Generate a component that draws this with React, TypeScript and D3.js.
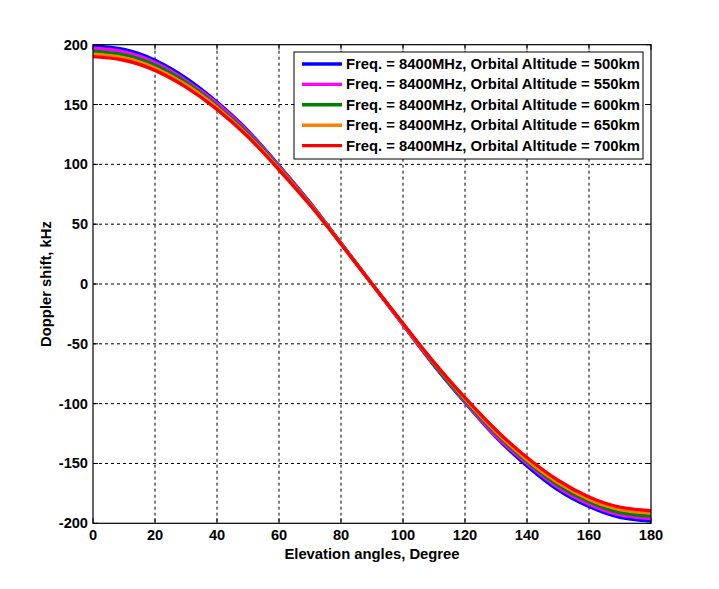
import React from "react";
import * as d3 from "d3";

const angles = [0, 10, 20, 30, 40, 50, 60, 70, 80, 90, 100, 110, 120, 130, 140, 150, 160, 170, 180];
const alt500 = [199, 196, 187, 172, 152, 128, 99, 68, 34, 0, -34, -68, -99, -128, -152, -172, -186, -195, -198];
const alt550 = [197, 194, 185, 170, 151, 127, 98.5, 67.5, 34, 0, -34, -67.5, -98.5, -127, -150, -170, -184, -193, -196];
const alt600 = [194.5, 191.5, 183, 168.5, 149, 125.5, 97.5, 67, 34, 0, -33.5, -67, -97.5, -125, -148.5, -168, -182, -191, -194];
const alt650 = [192, 189, 180.5, 166.5, 147.5, 124, 96.5, 66.5, 33.5, 0, -33.5, -66, -96, -123.5, -147, -166, -180, -188.5, -191.5];
const alt700 = [190, 187, 178.5, 164.5, 146, 123, 95.5, 66, 33.5, 0, -33, -65.5, -95, -122, -145, -164, -178, -186.5, -189.5];

const seriesNames = [
  "Freq. = 8400MHz, Orbital Altitude = 500km",
  "Freq. = 8400MHz, Orbital Altitude = 550km",
  "Freq. = 8400MHz, Orbital Altitude = 600km",
  "Freq. = 8400MHz, Orbital Altitude = 650km",
  "Freq. = 8400MHz, Orbital Altitude = 700km",
];
const seriesValues = [alt500, alt550, alt600, alt650, alt700];
const seriesColors = ["#0000ff", "#ff00ff", "#008000", "#ff8000", "#ff0000"];

const xTicks = [0, 20, 40, 60, 80, 100, 120, 140, 160, 180];
const yTicks = [-200, -150, -100, -50, 0, 50, 100, 150, 200];

const W = 719;
const H = 589;
const L = 93, R = 651, T = 44.7, B = 523.3;
const FONT = "'Liberation Sans', Arial, sans-serif";

export default function App() {
  const x = d3.scaleLinear().domain([0, 180]).range([L, R]);
  const y = d3.scaleLinear().domain([-200, 200]).range([B, T]);
  const line = d3
    .line<[number, number]>()
    .x((d) => x(d[0]))
    .y((d) => y(d[1]))
    .curve(d3.curveNatural);

  const legX = 294, legY = 52, legW = 349, legH = 107;
  const rowY = (i: number) => 64 + i * 20.4;

  return (
    <svg
      width={W}
      height={H}
      style={{ position: "absolute", left: 0, top: 0, background: "#fff" }}
      fontFamily={FONT}
    >
      <rect x={0} y={0} width={W} height={H} fill="#fff" />
      {/* grid */}
      {xTicks.slice(1, -1).map((t) => (
        <line key={"gx" + t} x1={x(t)} x2={x(t)} y1={T} y2={B} stroke="#000" strokeWidth={1} strokeDasharray="3,3" />
      ))}
      {yTicks.slice(1, -1).map((t) => (
        <line key={"gy" + t} x1={L} x2={R} y1={y(t)} y2={y(t)} stroke="#000" strokeWidth={1} strokeDasharray="3,3" />
      ))}
      {/* ticks */}
      {xTicks.map((t) => (
        <g key={"tx" + t}>
          <line x1={x(t)} x2={x(t)} y1={B} y2={B - 5} stroke="#000" />
          <line x1={x(t)} x2={x(t)} y1={T} y2={T + 5} stroke="#000" />
          <text x={x(t)} y={540} textAnchor="middle" fontSize={14.6} fontWeight="bold">{t}</text>
        </g>
      ))}
      {yTicks.map((t) => (
        <g key={"ty" + t}>
          <line x1={L} x2={L + 5} y1={y(t)} y2={y(t)} stroke="#000" />
          <line x1={R} x2={R - 5} y1={y(t)} y2={y(t)} stroke="#000" />
          <text x={88} y={y(t) + 5} textAnchor="end" fontSize={14.6} fontWeight="bold">{t}</text>
        </g>
      ))}
      {/* series */}
      {seriesValues.map((vals, i) => (
        <path
          key={"s" + i}
          d={line(angles.map((a, j) => [a, vals[j]] as [number, number])) || ""}
          fill="none"
          stroke={seriesColors[i]}
          strokeWidth={3.4}
        />
      ))}
      {/* frame */}
      <rect x={L} y={T} width={R - L} height={B - T} fill="none" stroke="#000" strokeWidth={1.2} />
      {/* legend */}
      <rect x={legX} y={legY} width={legW} height={legH} fill="#fff" stroke="#000" strokeWidth={1} />
      {seriesNames.map((n, i) => (
        <g key={"l" + i}>
          <line x1={302} x2={342} y1={rowY(i)} y2={rowY(i)} stroke={seriesColors[i]} strokeWidth={3.4} />
          <text x={346} y={rowY(i) + 5} fontSize={14.8} fontWeight="bold">{n}</text>
        </g>
      ))}
      {/* axis labels */}
      <text x={(L + R) / 2} y={559} textAnchor="middle" fontSize={14.8} fontWeight="bold">Elevation angles, Degree</text>
      <text
        transform={`translate(51,${(T + B) / 2}) rotate(-90)`}
        textAnchor="middle"
        fontSize={14.8}
        fontWeight="bold"
      >
        Doppler shift, kHz
      </text>
    </svg>
  );
}
